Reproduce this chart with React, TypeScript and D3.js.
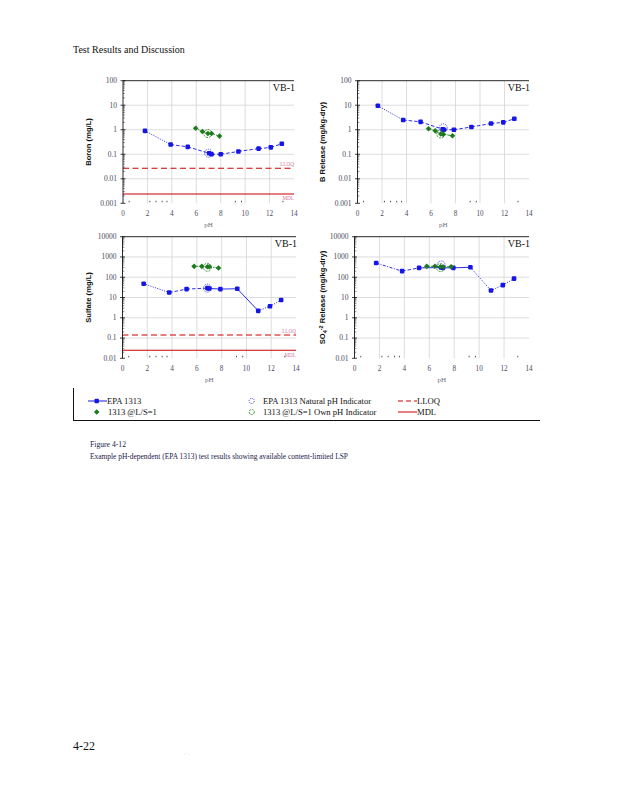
import * as d3 from 'd3'

interface Pt { ph: number; v: number }

const W = 618
const H = 800

const SERIF = '"Liberation Serif", "Times New Roman", serif'
const SANS = '"Liberation Sans", Arial, sans-serif'

const BLUE = '#1515e6'
const GREEN = '#1d7a1d'
const RED = '#cc0000'

// ---- data ----
const boronEpa: Pt[] = [
  { ph: 1.8, v: 0.9 }, { ph: 3.9, v: 0.25 }, { ph: 5.3, v: 0.2 }, { ph: 7.05, v: 0.11 },
  { ph: 7.25, v: 0.1 }, { ph: 8.0, v: 0.1 }, { ph: 9.45, v: 0.13 }, { ph: 11.1, v: 0.17 },
  { ph: 12.1, v: 0.19 }, { ph: 13.0, v: 0.27 },
]
const boronLS: Pt[] = [
  { ph: 5.95, v: 1.15 }, { ph: 6.5, v: 0.85 }, { ph: 6.95, v: 0.7 }, { ph: 7.25, v: 0.7 }, { ph: 7.9, v: 0.55 },
]
const boronNat: Pt[] = [{ ph: 7.0, v: 0.11 }]
const boronOwn: Pt[] = [{ ph: 6.95, v: 0.7 }]

const bRelEpa: Pt[] = [
  { ph: 1.66, v: 9.5 }, { ph: 3.73, v: 2.5 }, { ph: 5.15, v: 2.1 }, { ph: 6.95, v: 1.05 },
  { ph: 7.05, v: 1.0 }, { ph: 7.87, v: 1.0 }, { ph: 9.3, v: 1.3 }, { ph: 10.9, v: 1.8 },
  { ph: 11.9, v: 2.0 }, { ph: 12.8, v: 2.8 },
]
const bRelLS: Pt[] = [
  { ph: 5.8, v: 1.1 }, { ph: 6.35, v: 0.9 }, { ph: 6.8, v: 0.67 }, { ph: 7.0, v: 0.65 }, { ph: 7.75, v: 0.57 },
]
const bRelNat: Pt[] = [{ ph: 7.0, v: 1.2 }]
const bRelOwn: Pt[] = [{ ph: 6.8, v: 0.67 }]

const sulfEpa: Pt[] = [
  { ph: 1.71, v: 48 }, { ph: 3.77, v: 17.5 }, { ph: 5.17, v: 26 }, { ph: 6.85, v: 29 },
  { ph: 7.0, v: 28 }, { ph: 7.9, v: 26 }, { ph: 9.26, v: 27 }, { ph: 10.95, v: 2.2 },
  { ph: 11.9, v: 3.7 }, { ph: 12.8, v: 7.5 },
]
const sulfLS: Pt[] = [
  { ph: 5.78, v: 345 }, { ph: 6.4, v: 345 }, { ph: 6.85, v: 330 }, { ph: 7.0, v: 330 }, { ph: 7.75, v: 285 },
]
const sulfNat: Pt[] = [{ ph: 6.85, v: 29 }]
const sulfOwn: Pt[] = [{ ph: 6.85, v: 310 }]

const so4Epa: Pt[] = [
  { ph: 1.74, v: 500 }, { ph: 3.82, v: 200 }, { ph: 5.18, v: 290 }, { ph: 6.95, v: 300 },
  { ph: 7.1, v: 290 }, { ph: 7.93, v: 290 }, { ph: 9.3, v: 310 }, { ph: 10.95, v: 22 },
  { ph: 11.9, v: 41 }, { ph: 12.8, v: 85 },
]
const so4LS: Pt[] = [
  { ph: 5.8, v: 345 }, { ph: 6.45, v: 350 }, { ph: 6.9, v: 330 }, { ph: 7.1, v: 320 }, { ph: 7.75, v: 330 },
]
const so4Nat: Pt[] = [{ ph: 6.95, v: 400 }]
const so4Own: Pt[] = [{ ph: 6.9, v: 300 }]

const boronLimits = { lloq: 0.027, mdl: 0.0024 }
const sulfLimits = { lloq: 0.14, mdl: 0.025 }

const phTicks = [0, 2, 4, 6, 8, 10, 12, 14]
const phMinorMarks = [0.5, 2.2, 2.7, 3.2, 3.6, 9.2, 9.7, 13.1]
const decadesSmall = [100, 10, 1, 0.1, 0.01, 0.001]
const decadesSmallLabels = ['100', '10', '1', '0.1', '0.01', '0.001']
const decadesLarge = [10000, 1000, 100, 10, 1, 0.1, 0.01]
const decadesLargeLabels = ['10000', '1000', '100', '10', '1', '0.1', '0.01']

const legendItems = [
  'EPA 1313', '1313 @L/S=1', 'EPA 1313 Natural pH Indicator', '1313 @L/S=1 Own pH Indicator', 'LLOQ', 'MDL',
]

// per-segment dash patterns of the blue line (style only)
const DOT = '1,1.4'
const DASH = '3.5,2'
const SOLID = ''
const dashBoron = [DOT, DASH, DASH, DASH, DASH, DASH, DASH, DASH, DASH]
const dashBRel = [DOT, DASH, DASH, DASH, DASH, DASH, DASH, DASH, DASH]
const dashSulf = [DOT, DASH, DASH, SOLID, SOLID, SOLID, SOLID, DOT, DOT]
const dashSo4 = ['3,1.5,1,1.5', DASH, SOLID, SOLID, SOLID, SOLID, DOT, DOT, DOT]

interface PanelProps {
  x0: number; x1: number; y0: number; y1: number
  decades: number[]; decadeLabels: string[]
  title: React.ReactNode
  titleX: number
  epa: Pt[]; ls: Pt[]; nat: Pt[]; own: Pt[]
  dash: string[]
  lsDash: string
  limits?: { lloq: number; mdl: number }
}

const greenMark = d3.symbol().type(d3.symbolDiamond2).size(20)()

function Panel(p: PanelProps) {
  const x = d3.scaleLinear().domain([0, 14]).range([p.x0, p.x1])
  const y = d3.scaleLog()
    .domain([p.decades[p.decades.length - 1], p.decades[0]])
    .range([p.y1, p.y0])
  const line = d3.line<Pt>().x(d => x(d.ph)).y(d => y(d.v))

  const minor: number[] = []
  p.decades.slice(1).forEach(d => {
    for (let k = 2; k <= 9; k++) minor.push(d * k)
  })

  return (
    <g>
      {/* grid */}
      {phTicks.slice(1, -1).map(t => (
        <line key={`vg${t}`} x1={x(t)} x2={x(t)} y1={p.y0} y2={p.y1} stroke="#d4d4d4" strokeWidth={0.8} />
      ))}
      {p.decades.slice(1, -1).map(d => (
        <line key={`hg${d}`} x1={p.x0} x2={p.x1} y1={y(d)} y2={y(d)} stroke="#d4d4d4" strokeWidth={0.8} />
      ))}
      <line x1={p.x0} x2={p.x1} y1={p.y0} y2={p.y0} stroke="#111" strokeWidth={0.9} />

      {/* limits */}
      {p.limits && (
        <g>
          <line x1={p.x0} x2={p.x1} y1={y(p.limits.lloq)} y2={y(p.limits.lloq)} stroke={RED} strokeWidth={1.1} strokeDasharray="6,3.5" />
          <line x1={p.x0} x2={p.x1} y1={y(p.limits.mdl)} y2={y(p.limits.mdl)} stroke={RED} strokeWidth={1.1} />
          <text x={p.x1} y={y(p.limits.lloq) - 2.5} textAnchor="end" fontSize={5.2} fill="#d27aa0" fontFamily={SERIF}>LLOQ</text>
          <text x={p.x1} y={y(p.limits.mdl) + 6.5} textAnchor="end" fontSize={5.2} fill="#d27aa0" fontFamily={SERIF}>MDL</text>
        </g>
      )}

      {/* left axis */}
      <line x1={p.x0} x2={p.x0} y1={p.y0} y2={p.y1} stroke="#111" strokeWidth={0.9} />
      {p.decades.map(d => (
        <line key={`mt${d}`} x1={p.x0 - 2.5} x2={p.x0 + 2.5} y1={y(d)} y2={y(d)} stroke="#111" strokeWidth={0.8} />
      ))}
      {minor.map(m => (
        <line key={`mn${m}`} x1={p.x0} x2={p.x0 + 1.8} y1={y(m)} y2={y(m)} stroke="#111" strokeWidth={0.5} />
      ))}
      {phMinorMarks.map(m => (
        <line key={`xm${m}`} x1={x(m)} x2={x(m)} y1={p.y1 - 2.5} y2={p.y1 - 1} stroke="#222" strokeWidth={0.8} />
      ))}
      {p.decades.map((d, i) => (
        <text key={`yl${d}`} x={p.x0 - 6} y={y(d) + 2.4} textAnchor="end" fontSize={7.5} fill="#4a4a5e" fontFamily={SERIF}>
          {p.decadeLabels[i]}
        </text>
      ))}
      {phTicks.map(t => (
        <text key={`xl${t}`} x={x(t)} y={p.y1 + 12.5} textAnchor="middle" fontSize={7.2} fill="#4a4a5e" fontFamily={SERIF}>
          {t}
        </text>
      ))}
      <text x={(p.x0 + p.x1) / 2} y={p.y1 + 23.5} textAnchor="middle" fontSize={7} fill="#6a6a7a" fontFamily={SERIF}>pH</text>

      <text x={p.titleX} y={(p.y0 + p.y1) / 2} transform={`rotate(-90 ${p.titleX} ${(p.y0 + p.y1) / 2})`}
        textAnchor="middle" fontSize={7.6} fontWeight="bold" fill="#111" fontFamily={SANS}>
        {p.title}
      </text>
      <text x={p.x1 + 1} y={p.y0 + 10} textAnchor="end" fontSize={10} fill="#111" fontFamily={SERIF}>VB-1</text>

      {/* EPA 1313 series */}
      {p.epa.slice(1).map((d, i) => (
        <path key={`seg${i}`} d={line([p.epa[i], d]) || ''} fill="none" stroke={BLUE} strokeWidth={0.9}
          strokeDasharray={p.dash[i] || undefined} />
      ))}
      {p.epa.map((d, i) => (
        <rect key={`ep${i}`} x={x(d.ph) - 2.3} y={y(d.v) - 2.3} width={4.6} height={4.6} rx={1.1} fill={BLUE} />
      ))}

      {/* L/S = 1 series */}
      <path d={line(p.ls) || ''} fill="none" stroke={GREEN} strokeWidth={0.9} strokeDasharray={p.lsDash} />
      {p.ls.map((d, i) => (
        <path key={`ls${i}`} d={greenMark || ''} transform={`translate(${x(d.ph)},${y(d.v)})`} fill={GREEN} />
      ))}

      {p.nat.map((d, i) => (
        <circle key={`nat${i}`} cx={x(d.ph)} cy={y(d.v)} r={4} fill="none" stroke={BLUE} strokeWidth={0.8} strokeDasharray="1,1" />
      ))}
      {p.own.map((d, i) => (
        <circle key={`own${i}`} cx={x(d.ph)} cy={y(d.v)} r={4} fill="none" stroke={GREEN} strokeWidth={0.8} strokeDasharray="2,1" />
      ))}
    </g>
  )
}

function Legend() {
  const r1 = 401
  const r2 = 412
  return (
    <g fontFamily={SERIF} fontSize={8.6} fill="#111">
      <line x1={73.5} x2={73.5} y1={388} y2={421} stroke="#111" strokeWidth={1} />
      <line x1={73} x2={540} y1={420.5} y2={420.5} stroke="#111" strokeWidth={1} />

      <line x1={88} x2={107} y1={r1} y2={r1} stroke={BLUE} strokeWidth={1} />
      <rect x={94.5} y={r1 - 2.2} width={4.4} height={4.4} rx={1} fill={BLUE} />
      <text x={107} y={r1 + 3}>{legendItems[0]}</text>
      <path d={greenMark || ''} transform={`translate(96.7,${r2})`} fill={GREEN} />
      <text x={108} y={r2 + 3}>{legendItems[1]}</text>

      <circle cx={251.7} cy={r1} r={2.6} fill="none" stroke={BLUE} strokeWidth={0.8} strokeDasharray="1,1" />
      <text x={263} y={r1 + 3}>{legendItems[2]}</text>
      <circle cx={251.7} cy={r2} r={2.6} fill="none" stroke={GREEN} strokeWidth={0.8} strokeDasharray="2,1" />
      <text x={263} y={r2 + 3}>{legendItems[3]}</text>

      <line x1={398} x2={417} y1={r1} y2={r1} stroke={RED} strokeWidth={1} strokeDasharray="5,3" />
      <text x={417} y={r1 + 3}>{legendItems[4]}</text>
      <line x1={398} x2={417} y1={r2} y2={r2} stroke={RED} strokeWidth={1} />
      <text x={417} y={r2 + 3}>{legendItems[5]}</text>
    </g>
  )
}

export default function App() {
  return (
    <svg width={W} height={H} viewBox={`0 0 ${W} ${H}`}
      style={{ position: 'absolute', left: 0, top: 0, background: '#fff', display: 'block' }}>
      <text x={73} y={52.5} fontSize={10} fontFamily={SERIF} fill="#111">Test Results and Discussion</text>

      <Panel x0={123} x1={294} y0={80.7} y1={203.3} decades={decadesSmall} decadeLabels={decadesSmallLabels}
        title="Boron (mg/L)" titleX={91} epa={boronEpa} ls={boronLS} nat={boronNat} own={boronOwn}
        dash={dashBoron} lsDash="1.5,1.2" limits={boronLimits} />
      <Panel x0={357.5} x1={529} y0={80.7} y1={203.3} decades={decadesSmall} decadeLabels={decadesSmallLabels}
        title="B Release (mg/kg-dry)" titleX={325} epa={bRelEpa} ls={bRelLS} nat={bRelNat} own={bRelOwn}
        dash={dashBRel} lsDash="3,1" />
      <Panel x0={122.5} x1={296} y0={236.7} y1={358.3} decades={decadesLarge} decadeLabels={decadesLargeLabels}
        title="Sulfate (mg/L)" titleX={91} epa={sulfEpa} ls={sulfLS} nat={sulfNat} own={sulfOwn}
        dash={dashSulf} lsDash="1.5,1.2" limits={sulfLimits} />
      <Panel x0={354.5} x1={529} y0={236.7} y1={358.3} decades={decadesLarge} decadeLabels={decadesLargeLabels}
        title={<>SO<tspan fontSize={5.5} dy={1.5}>4</tspan><tspan fontSize={5.5} dy={-4}>-2</tspan><tspan dy={2.5}> Release (mg/kg-dry)</tspan></>}
        titleX={325} epa={so4Epa} ls={so4LS} nat={so4Nat} own={so4Own}
        dash={dashSo4} lsDash="3,1" />

      <Legend />

      <text x={90} y={447} fontSize={8} fontFamily={SERIF} fill="#1a1a4a" textLength={36} lengthAdjust="spacingAndGlyphs">Figure 4-12</text>
      <text x={90} y={458.5} fontSize={8} fontFamily={SERIF} fill="#1a1a4a" textLength={258} lengthAdjust="spacingAndGlyphs">
        Example pH-dependent (EPA 1313) test results showing available content-limited LSP
      </text>

      <text x={73} y={749.5} fontSize={12} fontFamily={SERIF} fill="#111">4-22</text>
      <text x={184} y={756} fontSize={4} fontFamily={SERIF} fill="#999">ⁱ  ˙ ᵉ</text>
    </svg>
  )
}
